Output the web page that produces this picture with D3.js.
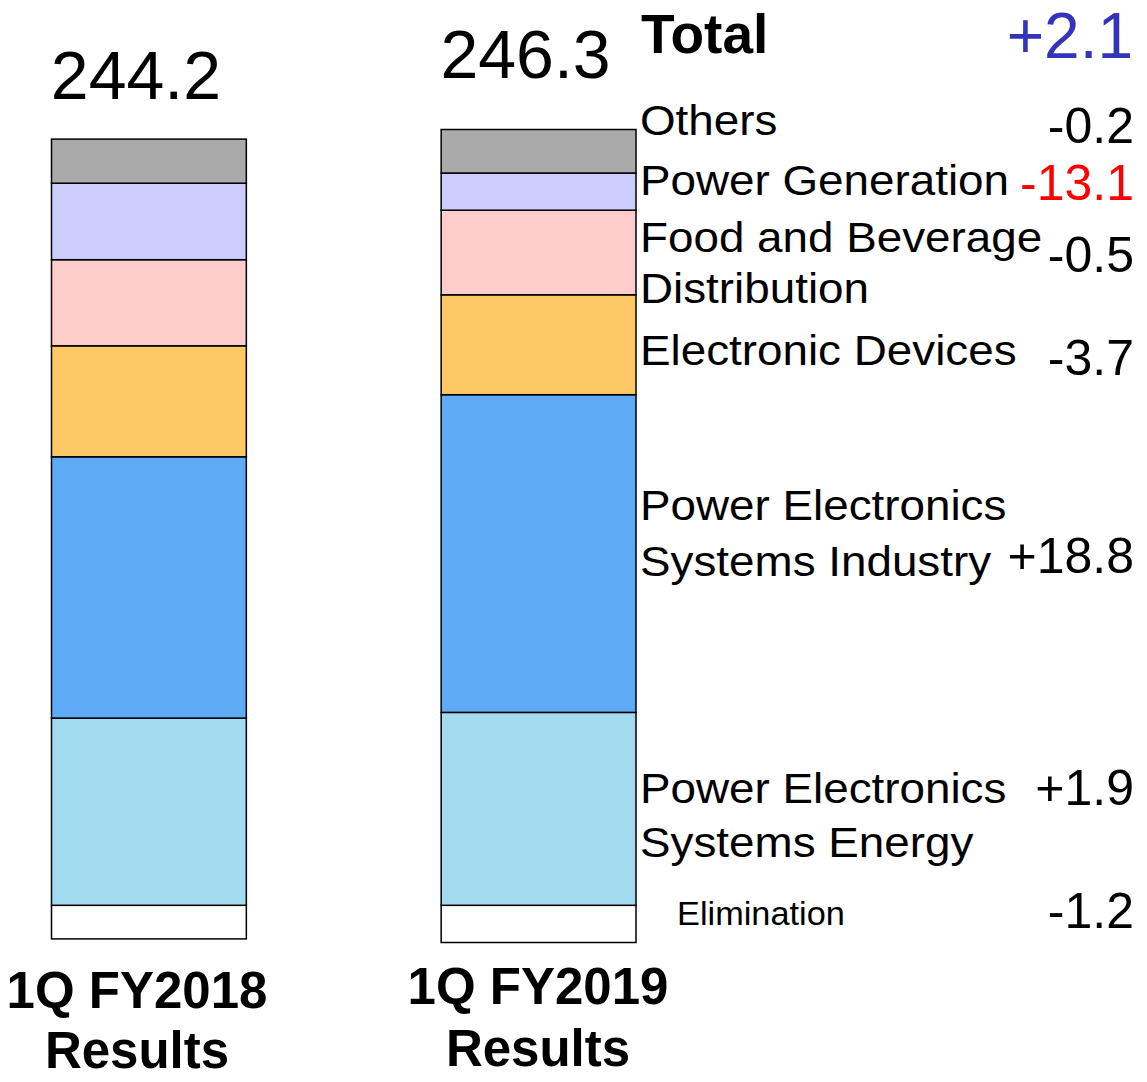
<!DOCTYPE html>
<html>
<head>
<meta charset="utf-8">
<style>
  body { margin: 0; background: #fff; }
  text { font-family: "Liberation Sans", Arial, sans-serif; }
</style>
<script src="https://d3js.org/d3.v7.min.js"></script>
</head>
<body>
<svg width="1147" height="1082"></svg>
<script>
// periods and their totals
var periods = ["1Q FY2018", "1Q FY2019"];
var periodSub = ["Results", "Results"];
var totals = ["244.2", "246.3"];

// segments, bottom to top
var segments = ["Elimination", "Power Electronics Systems Energy", "Power Electronics Systems Industry",
                "Electronic Devices", "Food and Beverage Distribution", "Power Generation", "Others"];
var fy2018 = [-11.2, 62.4, 87.1, 37.0, 28.7, 25.5, 14.7];
var fy2019 = [-12.4, 64.3, 105.9, 33.3, 28.2, 12.4, 14.5];
var colors = ["#ffffff", "#a2dbef", "#5eaaf5", "#fdc966", "#ffcccc", "#ccccff", "#aaaaaa"];

// right side labels / change
var labelLines = [["Elimination"], ["Power Electronics", "Systems Energy"], ["Power Electronics", "Systems Industry"],
                  ["Electronic Devices"], ["Food and Beverage", "Distribution"], ["Power Generation"], ["Others"]];
var changes = ["-1.2", "+1.9", "+18.8", "-3.7", "-0.5", "-13.1", "-0.2"];
var totalChange = "+2.1";

var svg = d3.select("svg");

var x = d3.scaleBand().domain(periods).range([51.5, 636]).paddingInner(0.5).paddingOuter(0);
var y = d3.scaleLinear().domain([0, 250]).range([905.3, 155.3]);

var series = [fy2018, fy2019];
var totalGap = [40, 52];

// stack by hand: negatives go below zero, positives stack upward
periods.forEach(function(p, i) {
  var vals = series[i];
  var pos = 0;
  var g = svg.append("g");
  vals.forEach(function(v, j) {
    var y0, y1;
    if (v < 0) { y0 = v; y1 = 0; }
    else { y0 = pos; y1 = pos + v; pos += v; }
    g.append("rect")
      .attr("x", x(p))
      .attr("width", x.bandwidth())
      .attr("y", y(y1))
      .attr("height", y(y0) - y(y1))
      .attr("fill", colors[j])
      .attr("stroke", "#000")
      .attr("stroke-width", 1.5);
  });
  // total on top
  svg.append("text")
    .attr("x", x(p) + x.bandwidth() / 2 - 13)
    .attr("y", y(pos) - totalGap[i])
    .attr("text-anchor", "middle")
    .attr("font-size", 68)
    .text(totals[i]);
});

// category labels
var xl = [137, 538];
periods.forEach(function(p, i) {
  var t = svg.append("text")
    .attr("text-anchor", "middle")
    .attr("font-size", 51)
    .attr("font-weight", "bold");
  t.append("tspan").attr("x", xl[i]).attr("y", i == 0 ? 1008 : 1004).text(p);
  t.append("tspan").attr("x", xl[i]).attr("y", i == 0 ? 1068 : 1066).text(periodSub[i]);
});

// right-hand legend
svg.append("text").attr("x", 641).attr("y", 53).attr("font-size", 55).attr("font-weight", "bold").text("Total");
svg.append("text").attr("x", 1133).attr("y", 58).attr("font-size", 64)
  .attr("text-anchor", "end").attr("fill", "#3333bb").text(totalChange);

var labelY = [[925], [803, 857], [520, 576], [365], [252, 303], [195], [135]];
var valueY = [928, 805, 573, 375, 272, 200, 143];

segments.forEach(function(s, j) {
  var small = j == 0;
  var lx = small ? 677 : 640;
  var sc = small ? 1.04 : 1.065;
  labelLines[j].forEach(function(line, k) {
    svg.append("text")
      .attr("x", lx)
      .attr("y", labelY[j][k])
      .attr("font-size", small ? 33 : 43)
      .attr("transform", "translate(" + (lx * (1 - sc)) + ",0) scale(" + sc + ",1)")
      .text(line);
  });
  svg.append("text")
    .attr("x", 1134)
    .attr("y", valueY[j])
    .attr("text-anchor", "end")
    .attr("font-size", 50)
    .attr("fill", changes[j] == "-13.1" ? "#ff0000" : "#000")
    .text(changes[j]);
});
</script>
</body>
</html>
